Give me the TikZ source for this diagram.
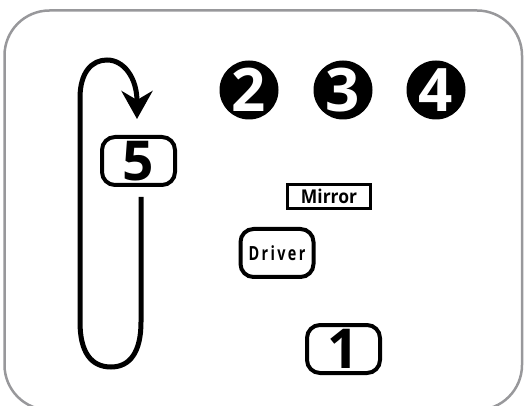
\documentclass[tikz,border=0pt]{standalone}
\usepackage{fontspec}
\setmainfont{Open Sans}
\usetikzlibrary{arrows.meta}
\definecolor{framegray}{RGB}{152,152,155}
\tikzset{
  numbox/.style={draw=black, line width=4pt, rounded corners=13pt, minimum width=73pt, minimum height=48pt, inner sep=0pt, font=\bfseries\fontsize{55}{55}\selectfont},
  numdisc/.style={circle, fill=black, minimum size=59pt, inner sep=0pt, text=white, font=\bfseries\fontsize{60}{60}\selectfont},
  mirrorbox/.style={draw=black, line width=3pt, minimum width=83pt, minimum height=24pt, inner sep=0pt, font=\bfseries\fontsize{19}{19}\selectfont},
  loopline/.style={line width=5pt, -{Stealth[length=28pt, width=31pt, inset=9pt]}},
}
\begin{document}
\begin{tikzpicture}[x=1pt, y=-1pt]
\useasboundingbox (0,0) rectangle (525,406);
\draw[framegray, line width=2.5pt, rounded corners=45pt] (4.5,10.5) rectangle (522,410);
\node[numdisc] (n2) at (249,90) {2};
\node[numdisc] (n3) at (343,90) {3};
\node[numdisc] (n4) at (436,90) {4};
\node[numbox] (n5) at (138.5,161) {5};
\node[mirrorbox] (mirror) at (329,196.5) {\scalebox{0.92}[1]{Mirror}};
\node[numbox] (driver) at (277,253) {\fontsize{19.5}{19.5}\selectfont\scalebox{0.74}[1]{D\,r\,i\,v\,e\,r}};
\node[numbox] (n1) at (343.5,349) {1};
\coordinate (ls) at (141,197);
\coordinate (le) at (137,119);
\draw[loopline] (ls) -- (141,322) .. controls (141,352) and (130,367) .. (111,367) .. controls (91,367) and (80,352) .. (80,322) -- (80,98) .. controls (80,72) and (92,60) .. (107,60) .. controls (124,60) and (137,78) .. (le);
\end{tikzpicture}
\end{document}
